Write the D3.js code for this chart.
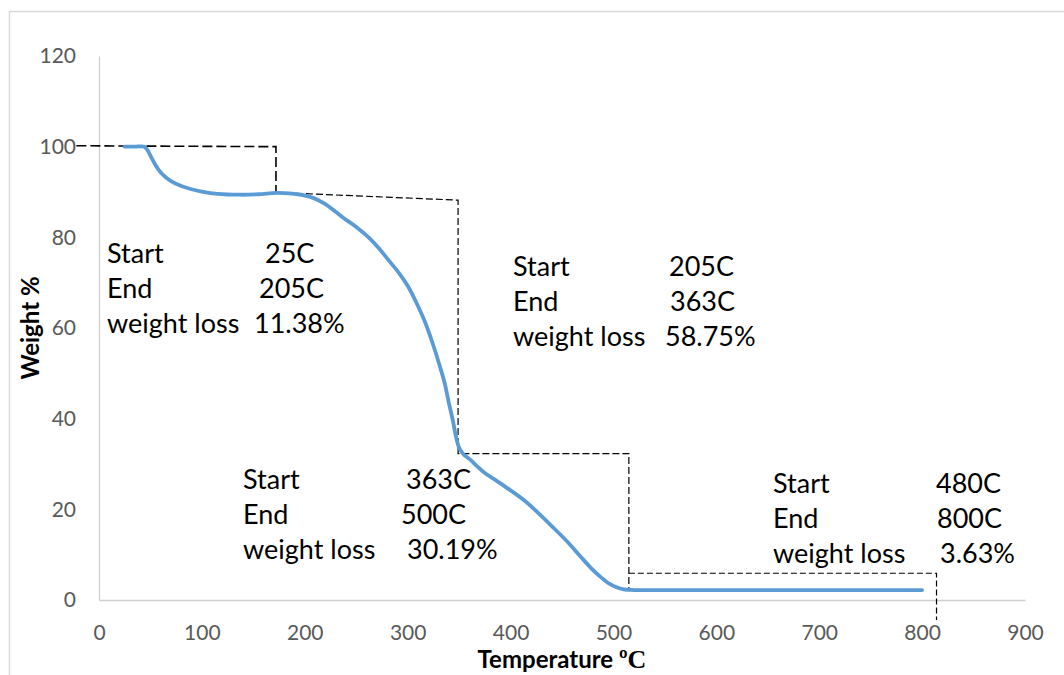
<!DOCTYPE html>
<html>
<head>
<meta charset="utf-8">
<script src="https://cdn.jsdelivr.net/npm/d3@7"></script>
<style>
  body { margin: 0; background: #fff; }
  svg { display: block; }
</style>
</head>
<body>
<svg id="chart" width="1064" height="675"></svg>
<script>
// TGA curve: temperature (C) and weight (%)
const temps = [25, 35, 44, 47, 50, 54, 58, 63, 70, 80, 90, 100, 115, 137, 155, 172, 185, 198, 208, 218, 228, 238,
  250, 262, 272, 282, 292, 300, 308, 316, 324, 331, 336, 340, 344, 347, 350, 354, 361, 367,
  375, 383, 396, 412, 425, 440, 455, 468, 478, 488, 496, 503, 510, 520, 600, 700, 800];
const weights = [100, 100, 100, 99.3, 98.0, 96.3, 94.9, 93.6, 92.4, 91.3, 90.6, 90.1, 89.6, 89.4, 89.5, 89.8, 89.7, 89.3, 88.7, 87.6, 86.0, 84.2,
  82.3, 80.0, 77.6, 74.8, 72.0, 69.3, 65.8, 61.8, 56.8, 51.8, 47.8, 43.5, 39.5, 36.0, 33.6, 32.2, 30.9, 29.6,
  28.0, 26.8, 24.8, 22.2, 19.6, 16.3, 12.9, 9.6, 7.1, 5.0, 3.6, 2.8, 2.35, 2.2, 2.2, 2.2, 2.2];

const xTicks = [0, 100, 200, 300, 400, 500, 600, 700, 800, 900];
const yTicks = [0, 20, 40, 60, 80, 100, 120];

// dashed step guides, in data units
const guideA = [[-22, 100.2], [172, 100], [172, 89.9]];
const guideB = [[172, 89.9], [349, 88.2], [349, 32.3], [515, 32.3], [515, 2.2]];
const guideC = [[515, 5.9], [814, 5.9], [814, -4.4]];

// annotation blocks
const stageLabels = ["Start", "End", "weight loss"];
const stageValues = [
  ["25C", "205C", "11.38%"],
  ["205C", "363C", "58.75%"],
  ["363C", "500C", "30.19%"],
  ["480C", "800C", "3.63%"]
];

const svg = d3.select('#chart');
const font = "Lato, 'Open Sans', sans-serif";

let margin = {top: 56, left: 99, right: 1025, bottom: 600};

// outer frame (left and top edge visible)
svg.append('path')
  .attr('d', 'M9.5,675 L9.5,11.5 L1064,11.5')
  .attr('fill', 'none')
  .attr('stroke', '#d9d9d9')
  .attr('stroke-width', 1.5);

var x = d3.scaleLinear().domain([0, 900]).range([margin.left, margin.right]);
var y = d3.scaleLinear().domain([0, 120]).range([margin.bottom, margin.top]);

// axes
var gX = svg.append('g')
  .attr('transform', 'translate(0,' + margin.bottom + ')')
  .call(d3.axisBottom(x).tickValues(xTicks).tickSize(0).tickPadding(25));
var gY = svg.append('g')
  .attr('transform', 'translate(' + margin.left + ',0)')
  .call(d3.axisLeft(y).tickValues(yTicks).tickSize(0).tickPadding(23));

[gX, gY].forEach(g => {
  g.select('.domain').attr('stroke', '#d0d0d0').attr('stroke-width', 1.3);
  g.selectAll('text')
    .attr('fill', '#595959')
    .style('font-family', font)
    .style('font-size', '21px');
});

// curve
var data = temps.map((t, i) => [t, weights[i]]);
var line = d3.line()
  .x(d => x(d[0]))
  .y(d => y(d[1]))
  .curve(d3.curveCatmullRom.alpha(0.5));

var guide = d3.line().x(d => x(d[0])).y(d => y(d[1]));

svg.append('path')
  .attr('d', guide(guideA))
  .attr('fill', 'none')
  .attr('stroke', '#000')
  .attr('stroke-width', 1.6)
  .attr('stroke-dasharray', '10,4');

svg.append('path')
  .attr('d', guide(guideB))
  .attr('fill', 'none')
  .attr('stroke', '#000')
  .attr('stroke-width', 1.2)
  .attr('stroke-dasharray', '7,3');

svg.append('path')
  .attr('d', guide(guideC))
  .attr('fill', 'none')
  .attr('stroke', '#000')
  .attr('stroke-width', 1.2)
  .attr('stroke-dasharray', '6,3');

svg.append('path')
  .datum(data)
  .attr('d', line)
  .attr('fill', 'none')
  .attr('stroke', '#5b9bd5')
  .attr('stroke-width', 3.8)
  .attr('stroke-linecap', 'round')
  .attr('stroke-linejoin', 'round');

// annotation text: label column x, value column x per row, first baseline
var blocks = [
  {lx: 107, vx: [265, 259, 254], top: 263},
  {lx: 513, vx: [669, 670, 665], top: 276},
  {lx: 243, vx: [406, 401, 407], top: 489},
  {lx: 773, vx: [936, 937, 940], top: 493}
];
blocks.forEach((b, bi) => {
  stageLabels.forEach((lab, i) => {
    svg.append('text')
      .attr('x', b.lx)
      .attr('y', b.top + i * 35)
      .style('font-family', font)
      .style('font-size', '27px')
      .attr('fill', '#000')
      .text(lab);
    svg.append('text')
      .attr('x', b.vx[i])
      .attr('y', b.top + i * 35)
      .style('font-family', font)
      .style('font-size', '27px')
      .attr('fill', '#000')
      .text(stageValues[bi][i]);
  });
});

// axis titles
var xt = svg.append('text')
  .attr('x', (margin.left + margin.right) / 2)
  .attr('y', 668)
  .attr('text-anchor', 'middle')
  .attr('font-weight', 'bold')
  .style('font-size', '24px')
  .attr('fill', '#000');
xt.append('tspan').style('font-family', font).text('Temperature ');
xt.append('tspan').style('font-family', "'Liberation Serif', serif").style('font-size', '26px').text('ºC');

svg.append('text')
  .attr('transform', 'translate(39,' + (margin.top + margin.bottom) / 2 + ') rotate(-90)')
  .attr('text-anchor', 'middle')
  .attr('font-weight', 'bold')
  .style('font-family', font)
  .style('font-size', '24px')
  .attr('fill', '#000')
  .text('Weight %');
</script>
</body>
</html>
